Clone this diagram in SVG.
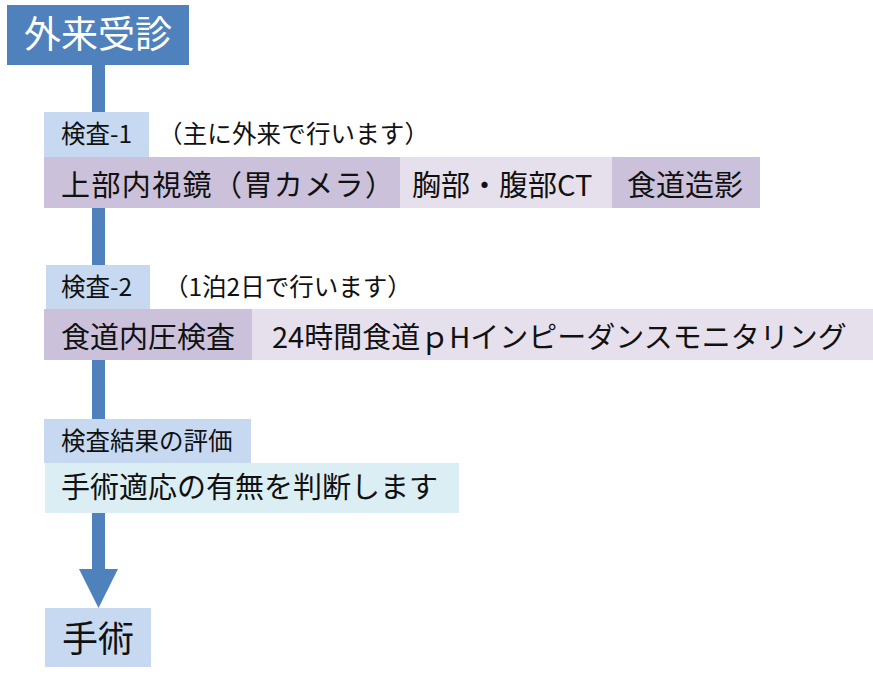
<svg xmlns="http://www.w3.org/2000/svg" width="873" height="684" viewBox="0 0 873 684">
<style>
text{font-family:"Noto Sans CJK JP","Noto Sans CJK SC",sans-serif;fill:#111}
.lbl{font-size:24.5px}
.main{font-size:29px}
.blue{fill:#4F81BD}
.lb{fill:#C6D9F1}
.pu{fill:#CCC1DA}
.lp{fill:#E6E0EC}
.cy{fill:#DBEEF4}
</style>
<rect width="873" height="684" fill="#fff"/>
<g id="connectors">
<rect class="blue" x="92" y="65" width="13" height="505"/>
<polygon class="blue" points="79,569 118,569 98.5,608"/>
</g>
<g id="gairai">
<rect class="blue" x="7" y="5" width="182" height="60"/>
<text x="24" y="48" style="font-size:37px;fill:#fff">外来受診</text>
</g>
<g id="kensa1">
<rect class="lb" x="44" y="112" width="105" height="45"/>
<text class="lbl" x="61" y="143">検査-1</text>
<text class="lbl" x="158" y="143" textLength="271">（主に外来で行います）</text>
</g>
<g id="naishikyo">
<rect class="pu" x="44" y="157" width="356" height="51"/>
<text class="main" x="61" y="196" textLength="333">上部内視鏡（胃カメラ）</text>
</g>
<g id="ct">
<rect class="lp" x="400" y="157" width="212" height="51"/>
<text class="main" x="412" y="196">胸部・腹部CT</text>
</g>
<g id="zoei">
<rect class="pu" x="612" y="157" width="148" height="51"/>
<text class="main" x="627" y="196">食道造影</text>
</g>
<g id="kensa2">
<rect class="lb" x="46" y="265" width="104" height="44"/>
<text class="lbl" x="61" y="296">検査-2</text>
<text class="lbl" x="164" y="296">（1泊2日で行います）</text>
</g>
<g id="naiatsu">
<rect class="pu" x="44" y="309" width="208" height="51"/>
<text class="main" x="61" y="348">食道内圧検査</text>
</g>
<g id="ph">
<rect class="lp" x="252" y="309" width="621" height="51"/>
<text class="main" x="272" y="348">24時間食道ｐHインピーダンスモニタリング</text>
</g>
<g id="hyoka">
<rect class="lb" x="44" y="419" width="207" height="44"/>
<text class="lbl" x="61" y="450">検査結果の評価</text>
</g>
<g id="handan">
<rect class="cy" x="45" y="463" width="414" height="50"/>
<text class="main" x="61" y="498">手術適応の有無を判断します</text>
</g>
<g id="shujutsu">
<rect class="lb" x="45" y="608" width="106" height="59"/>
<text x="62" y="652" style="font-size:36px">手術</text>
</g>
</svg>
